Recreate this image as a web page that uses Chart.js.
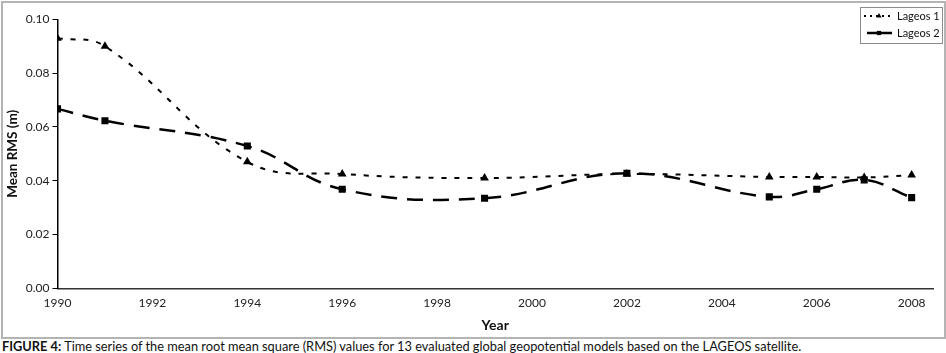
<!DOCTYPE html>
<html>
<head>
<meta charset="utf-8">
<script src="https://cdn.jsdelivr.net/npm/chart.js@4"></script>
<style>
  body { margin: 0; background: #fff; }
  #frame {
    position: absolute; left: 1px; top: 1px;
    width: 941px; height: 334px;
    border: 2px solid #b4b4b4;
  }
  #chartBox { position: absolute; left: 0; top: 0; }
  #caption {
    position: absolute; left: 2px; top: 338px;
    font-family: Lato, sans-serif; font-size: 12.8px; color: #111;
    white-space: nowrap;
  }
  #caption b { font-weight: bold; }
</style>
</head>
<body>
<div id="frame"></div>
<canvas id="chartBox" width="946" height="338"></canvas>
<div id="caption"><b>FIGURE 4:</b> Time series of the mean root mean square (RMS) values for 13 evaluated global geopotential models based on the LAGEOS satellite.</div>
<script>
const years = [1990, 1991, 1994, 1996, 1999, 2002, 2005, 2006, 2007, 2008];
const lageos1 = [0.093, 0.090, 0.047, 0.0425, 0.041, 0.0425, 0.0414, 0.0414, 0.0412, 0.0421];
const lageos2 = [0.0667, 0.0623, 0.0529, 0.0368, 0.0335, 0.0428, 0.034, 0.0368, 0.0403, 0.0337];
const yearTicks = [1990, 1992, 1994, 1996, 1998, 2000, 2002, 2004, 2006, 2008];

const toPoints = (vals) => years.map((y, i) => ({ x: y, y: vals[i] }));

// legend box in the top right corner
const boxLegend = {
  id: 'boxLegend',
  afterDraw(chart) {
    const c = chart.ctx;
    c.save();
    c.strokeStyle = '#8c8c8c';
    c.lineWidth = 1;
    c.strokeRect(860.5, 7.5, 82, 36);
    c.font = '11px Lato, sans-serif';
    c.fillStyle = '#111';
    c.textBaseline = 'middle';
    chart.data.datasets.forEach((ds, i) => {
      const y = 16 + i * 17;
      c.strokeStyle = '#000';
      c.lineWidth = ds.borderWidth;
      c.setLineDash(i === 0 ? [2, 4] : []);
      c.beginPath();
      c.moveTo(i === 0 ? 864 : 867, y);
      c.lineTo(892, y);
      c.stroke();
      c.setLineDash([]);
      c.fillStyle = '#000';
      Chart.helpers.drawPoint(c, { pointStyle: ds.pointStyle, radius: 3, rotation: 0 }, 879, y);
      c.fillStyle = '#111';
      c.fillText(ds.label, 897, y);
    });
    c.restore();
  }
};

new Chart(document.getElementById('chartBox'), {
  type: 'line',
  plugins: [boxLegend],
  data: {
    datasets: [
      {
        label: 'Lageos 1',
        data: toPoints(lageos1),
        borderColor: '#000',
        backgroundColor: '#000',
        borderWidth: 2,
        borderDash: [5, 8],
        tension: 0.4,
        pointStyle: 'triangle',
        pointRadius: 5,
        pointBorderWidth: 0,
      },
      {
        label: 'Lageos 2',
        data: toPoints(lageos2),
        borderColor: '#000',
        backgroundColor: '#000',
        borderWidth: 2.5,
        borderDash: [16, 10],
        tension: 0.4,
        pointStyle: 'rect',
        pointRadius: 5,
        pointBorderWidth: 0,
      },
    ],
  },
  options: {
    responsive: false,
    animation: false,
    layout: { padding: { left: 0, top: 19.3, right: 13, bottom: 0 } },
    plugins: {
      legend: { display: false },
      tooltip: { enabled: false },
    },
    scales: {
      x: {
        type: 'linear',
        min: 1990,
        max: 2008.45,
        afterFit: (s) => { s.height = 49.7; },
        afterBuildTicks: (s) => { s.ticks = yearTicks.map((v) => ({ value: v })); },
        grid: { display: false, drawTicks: false },
        border: { color: '#333', width: 1.5 },
        ticks: {
          padding: 8,
          color: '#222',
          font: { family: 'Lato', size: 12 },
          callback: (v) => String(v),
        },
        title: {
          display: true,
          text: 'Year',
          color: '#111',
          font: { family: 'Lato', size: 14, weight: 'bold' },
          padding: { top: 0, bottom: 4 },
        },
      },
      y: {
        min: 0,
        max: 0.1,
        afterFit: (s) => { s.width = 57.5; },
        grid: { drawOnChartArea: false, tickLength: 5, color: '#000', tickColor: '#000' },
        border: { color: '#000', width: 1.5 },
        ticks: {
          stepSize: 0.02,
          padding: 3,
          color: '#222',
          font: { family: 'Lato', size: 12 },
          callback: (v) => v.toFixed(2),
        },
        title: {
          display: true,
          text: 'Mean RMS (m)',
          color: '#111',
          font: { family: 'Lato', size: 13.5, weight: 'bold' },
          padding: { top: 5, bottom: 0 },
        },
      },
    },
  },
});
</script>
</body>
</html>
